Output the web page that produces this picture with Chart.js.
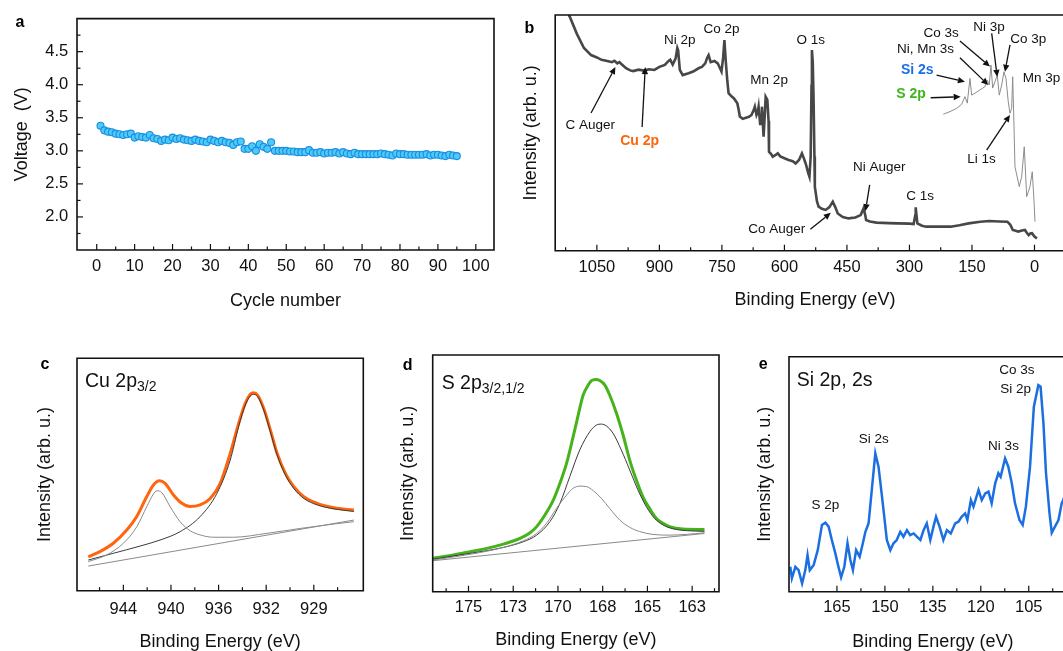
<!DOCTYPE html>
<html><head><meta charset="utf-8">
<script src="https://cdn.jsdelivr.net/npm/chart.js@4.4.1/dist/chart.umd.min.js"></script>
<style>
html,body{margin:0;padding:0;background:#fff;overflow:hidden;width:1063px;height:651px;position:relative}
canvas{position:absolute}
.lab{position:absolute;font:bold 16px 'Liberation Sans',Arial,sans-serif;line-height:16px;color:#000}
</style></head><body>
<canvas id="ca" width="500" height="320" style="left:0;top:0"></canvas>
<canvas id="cb" width="600" height="320" style="left:505px;top:0"></canvas>
<canvas id="cc" width="370" height="320" style="left:0;top:340px"></canvas>
<canvas id="cd" width="360" height="320" style="left:370px;top:340px"></canvas>
<canvas id="ce" width="360" height="320" style="left:730px;top:340px"></canvas>
<div class="lab" style="left:15.5px;top:14px">a</div>
<div class="lab" style="left:524.5px;top:19.5px">b</div>
<div class="lab" style="left:40.5px;top:355.7px">c</div>
<div class="lab" style="left:402.8px;top:357.2px">d</div>
<div class="lab" style="left:758.8px;top:355.7px">e</div>
<script>
// ---------------- DATA ----------------
// Panel a: cycling voltage
const cycles = [1,2,3,4,5,6,7,8,9,10,11,12,13,14,15,16,17,18,19,20,21,22,23,24,25,26,27,28,29,30,31,32,33,34,35,36,37,38,39,40,41,42,43,44,45,46,47,48,49,50,51,52,53,54,55,56,57,58,59,60,61,62,63,64,65,66,67,68,69,70,71,72,73,74,75,76,77,78,79,80,81,82,83,84,85,86,87,88,89,90,91,92,93,94,95];
const voltage = [3.38,3.31,3.29,3.28,3.26,3.25,3.24,3.25,3.26,3.20,
  3.22,3.21,3.20,3.24,3.19,3.18,3.15,3.17,3.16,3.20,
  3.18,3.19,3.17,3.16,3.15,3.17,3.15,3.14,3.13,3.17,
  3.15,3.13,3.15,3.13,3.12,3.09,3.13,3.14,3.03,3.03,
  3.07,3.00,3.10,3.06,3.03,3.13,3.00,3.00,3.00,3.00,
  2.99,2.99,2.98,2.98,2.98,3.01,2.97,2.97,2.98,2.96,
  2.97,2.97,2.98,2.96,2.98,2.96,2.95,2.97,2.95,2.95,
  2.95,2.95,2.95,2.95,2.96,2.95,2.94,2.93,2.96,2.95,
  2.95,2.94,2.94,2.94,2.94,2.94,2.95,2.93,2.94,2.94,
  2.93,2.92,2.94,2.93,2.92];
const aXTicks = [0,10,20,30,40,50,60,70,80,90,100];
const aXMinor = [5,15,25,35,45,55,65,75,85,95];
const aYTicks = [2.0,2.5,3.0,3.5,4.0,4.5];
const aYMinor = [1.75,2.25,2.75,3.25,3.75,4.25,4.75];

// Panel b: survey spectrum [binding energy, intensity]
const surveyMain = [[1118,100],[1115,99.3],[1098,92],[1081,86],[1064,83],[1050,82],[1039,81],[1025,80.5],[1014,80],[1008,80.6],[1001,79.5],[996,80],[990,79],[980,77.4],[970,76.5],[963,76.2],[950,76.8],[937,76.4],[925,77],[912,76.7],[900,78],[887,78.8],[878,80.5],[874,81],[868,79],[861,81.6],[857,86],[855,85],[851,76.7],[844,74.5],[830,75.3],[819,76],[805,77.5],[798,78],[790,79.5],[785,82],[782,83],[777,80],[768,80.5],[760,79.5],[751,76],[747,82],[744,89.4],[741,81],[737,72],[734,66.8],[727,65.5],[721,64.6],[713,62.5],[710,60],[707,56.9],[700,56],[696,56.2],[685,56.8],[679,57.6],[673,60],[671,61.1],[667,57.6],[664,59],[662,61.1],[658,53.3],[656,57],[654,61.1],[650,48.4],[647,58],[645,65.3],[641,64],[638,55],[637,42],[632,41],[628,39.9],[622,40.5],[616,41.3],[610,40],[600,39.2],[590,38.5],[580,38],[573,37],[565,38.5],[558,41.3],[553,39],[548,36.4],[543,33],[540,31.4],[537,39.9],[535,70],[534,85.1],[532,80],[530,64],[528,40],[527,27.2],[522,21],[518,18.7],[510,17.8],[501,17.3],[492,18.5],[484,20.8],[478,18.5],[472,15.8],[460,14.3],[446,13.7],[430,14.1],[417,15.1],[410,18],[406,15],[404,13],[395,12.4],[379,11.9],[350,11.7],[328,11.6],[300,11.5],[290,11.3],[286,15],[285,18.4],[283,15],[281,11.6],[270,10.6],[260,10.2],[230,10.2],[201,10.2],[180,10.8],[158,11.6],[130,12.3],[108,12.6],[85,12.4],[65,12.3],[58,11],[52,8.8],[45,8.5],[39,8.1],[30,8.6],[23,8.8],[18,7.5],[14,6.6],[10,7.3],[6,7.4],[0,6.0],[-6,5.2]];
const surveyInset = [[218.9,57.9],[202.8,59.0],[186.7,60.4],[174.7,62.1],[166.8,65.4],[161.3,62.6],[154.8,73.1],[150.7,66.0],[142.8,66.8],[130.8,68.2],[118.8,69.6],[113.3,72.4],[108.5,70.3],[104.4,78.8],[100.3,69.0],[94.8,71.7],[89.3,74.5],[84.5,66.0],[78.7,70.3],[73.2,75.9],[68.4,73.1],[62.9,63.2],[58.8,58.3],[54.7,60.4],[52.3,73.8],[49.2,53.3],[46.8,35.6],[36.5,27.2],[30.7,31.4],[24.5,44.1],[18.7,22.9],[10.8,27.2],[5.3,33.5],[1.2,21.5],[-1.2,12.3]];
const bTicks = [1050,900,750,600,450,300,150,0];
const bMinor = [1125,975,825,675,525,375,225,75];

// Panel c: Cu 2p3/2
const cuEnvelope = [[946.6,14.6],[945.67,16.8],[944.6,20.4],[943.53,26.1],[942.73,31.9],[941.93,40.5],[941.4,45.5],[940.92,47.3],[940.47,46.2],[939.8,41.2],[939.13,37.6],[938.47,36.2],[937.67,36.9],[936.87,39.7],[936.07,46.2],[935.27,59.1],[934.6,72.0],[934.07,80.6],[933.67,84.5],[933.4,85.2],[933.08,84.1],[932.6,78.5],[932.07,69.2],[931.53,59.1],[930.87,50.5],[930.2,44.8],[929.4,40.5],[928.33,37.6],[927,35.7],[925.4,34.7]];
const cuMain = [[946.6,13.2],[944.6,16.1],[942.47,19.2],[940.87,21.8],[939.27,25.4],[937.67,31.9],[936.33,41.9],[935.27,56.2],[934.6,70.6],[934.07,79.9],[933.67,83.8],[933.4,84.5],[933.08,83.5],[932.6,77.8],[932.07,68.4],[931.53,58.4],[930.87,49.8],[930.2,44.0],[929.4,39.7],[928.33,36.9],[927,35.2],[925.4,34.1]];
const cuSatellite = [[946.6,12.5],[945.13,15.4],[943.8,20.4],[942.73,27.5],[941.93,36.2],[941.4,41.6],[941.13,43.0],[940.73,42.2],[940.07,36.2],[939.27,29.7],[938.47,25.8],[937.67,24.0],[936.6,23.0],[935,23.0],[932.33,24.7],[929.67,26.8],[927,28.7],[925.4,29.7]];
const cuBackground = [[946.6,10.6],[925.4,30.4]];
const cTickValues = [943.8,940,936.2,932.4,928.6];
const cTickLabels = ['944','940','936','932','929'];
const cMinor = [945.7,941.9,938.1,934.3,930.5,926.7];

// Panel d: S 2p3/2,1/2
const sEnvelope = [[176.99,14.1],[175.84,15.5],[174.91,16.9],[173.98,18.3],[173.05,20.1],[172.12,22.5],[171.56,24.9],[171.19,27.5],[170.73,32.4],[170.26,38.7],[169.89,45.8],[169.52,54.2],[169.15,65.5],[168.87,74.6],[168.59,83.1],[168.31,87.3],[168.13,89.2],[167.89,89.7],[167.66,89.2],[167.38,87.3],[167.11,83.1],[166.73,75.4],[166.36,66.2],[165.99,55.6],[165.62,47.2],[165.25,40.1],[164.88,35.2],[164.51,31.0],[164.13,28.9],[163.76,27.5],[163.02,26.5],[161.81,26.3]];
const sComp1 = [[176.99,13.7],[174.91,16.2],[173.05,18.7],[171.94,21.1],[171.19,23.9],[170.45,29.6],[169.89,37.3],[169.34,48.6],[168.78,59.9],[168.22,67.6],[167.85,70.4],[167.57,70.8],[167.29,70.0],[166.92,66.9],[166.46,59.9],[165.99,51.4],[165.53,43.0],[165.06,35.9],[164.6,31.0],[164.13,28.2],[163.58,26.6],[162.83,25.8],[161.81,25.5]];
const sComp2 = [[176.99,13.4],[174.91,15.8],[173.05,18.7],[171.94,21.5],[171.19,24.6],[170.64,28.9],[170.08,35.2],[169.52,40.8],[169.15,43.7],[168.78,44.6],[168.41,44.4],[168.03,42.7],[167.57,39.4],[167.11,35.2],[166.55,30.3],[165.99,27.2],[165.43,25.4],[164.69,24.2],[163.76,23.9],[162.83,24.2],[161.81,24.9]];
const sBackground = [[176.99,13.1],[161.81,24.6]];
const dTickValues = [175,172.5,170,167.5,165,162.5];
const dTickLabels = ['175','173','170','168','165','163'];
const dMinor = [176.25,173.75,171.25,168.75,166.25,163.75,161.25];

// Panel e: Si 2p, 2s region
const siSpectrum = [[179.6,10.6],[179.1,5.7],[178.0,10.6],[177.0,9.2],[175.9,3.5],[174.9,9.2],[174.2,15.6],[173.5,9.2],[172.3,11.3],[171.0,17.7],[169.7,28.4],[168.6,29.4],[167.6,27.7],[166.6,22.0],[165.5,16.3],[164.8,12.1],[163.7,6.1],[162.7,10.6],[161.7,20.6],[160.8,13.5],[160.0,9.2],[159.0,17.7],[157.9,14.9],[156.9,20.6],[156.1,25.5],[155.1,29.1],[154.1,43.3],[153.0,58.9],[152.0,53.2],[150.9,40.4],[150.2,31.9],[149.4,22.0],[148.3,17.7],[147.3,20.6],[146.3,22.0],[145.2,25.5],[144.2,23.4],[143.1,26.2],[142.1,24.1],[141.0,24.8],[140.0,23.4],[138.9,22.0],[137.9,26.2],[136.9,29.1],[135.8,22.0],[134.8,27.7],[134.0,31.9],[132.9,27.7],[131.7,22.0],[130.6,26.2],[129.4,24.8],[128.0,29.1],[127.0,29.8],[126.0,31.9],[124.9,33.3],[124.2,30.5],[123.1,39.0],[122.3,36.2],[120.7,43.3],[119.7,39.0],[118.6,41.8],[117.6,42.6],[116.6,37.6],[115.5,46.1],[114.5,50.4],[113.8,48.9],[112.4,56.7],[111.4,53.2],[110.3,46.1],[109.3,37.6],[107.9,30.5],[106.9,28.4],[105.9,36.2],[104.6,53.2],[103.4,78.7],[102.0,87.9],[101.3,87.2],[100.4,71.6],[99.6,50.4],[98.5,33.3],[97.8,25.1],[96.8,27.7],[95.7,30.5],[94.7,37.6],[94.2,39.0],[93.5,42.0]];
const eTicks = [165,150,135,120,105];
const eMinor = [172.5,157.5,142.5,127.5,112.5,97.5];

// ---------------- ANNOTATIONS ----------------
const surveyLabels = [
  {t:'Ni 2p',x:850.9,y:89.4},{t:'Co 2p',x:751.1,y:93.9},{t:'O 1s',x:536.9,y:89.4},{t:'Mn 2p',x:636.7,y:72.4},
  {t:'C Auger',x:1066,y:53.0},{t:'Cu 2p',x:947.4,y:46.5,c:'#ff6508',b:true},{t:'Ni Auger',x:372.6,y:35.4},
  {t:'C 1s',x:274.3,y:23.2},{t:'Co Auger',x:618.2,y:9.2},{t:'Co 3s',x:224.0,y:92.2},{t:'Ni 3p',x:109.0,y:95.0},
  {t:'Co 3p',x:14.7,y:89.8},{t:'Ni, Mn 3s',x:261.6,y:85.4},{t:'Si 2s',x:281.2,y:76.6,c:'#1a6fe6',b:true},
  {t:'S 2p',x:296.4,y:66.5,c:'#3fb51c',b:true},{t:'Mn 3p',x:-17,y:73.1},{t:'Li 1s',x:127,y:38.8}
];
const surveyArrows = [[1064.0,58.4,1005.6,77.9],[941.5,52.5,933.9,77.9],[537.7,9.1,488.7,16.1],[395.4,27.9,405.6,16.8],
  [249.2,64.9,177.1,65.3],[234.8,74.5,166.8,71.7],[178.8,81.9,110.9,70.3],[178.8,89.0,106.8,78.1],
  [102.7,92.2,89.3,73.8],[58.8,87.3,70.8,75.9],[114.7,42.7,58.8,57.6]];
const siLabels = [{t:'S 2p',x:168.6,y:36.9},{t:'Si 2s',x:153.5,y:64.8},{t:'Ni 3s',x:112.9,y:61.7},{t:'Co 3s',x:108.75,y:94.3},{t:'Si 2p',x:109.1,y:86.1}];

// ---------------- HELPERS ----------------
const F = "'Liberation Sans', Arial, sans-serif";
const INK = '#111';
const pts = arr => arr.map(([x,y]) => ({x,y}));

function frame(o){
  return {id:'frame', afterDatasetsDraw(chart){
    const {ctx, chartArea:A, scales:{x,y}} = chart;
    ctx.save(); ctx.strokeStyle = INK; ctx.lineWidth = 1.2;
    const tick = (vals,len,ax) => (vals||[]).forEach(v => {
      ctx.beginPath();
      if (ax==='x'){ const p=x.getPixelForValue(v); ctx.moveTo(p,A.bottom); ctx.lineTo(p,A.bottom-len); }
      else { const p=y.getPixelForValue(v); ctx.moveTo(A.left,p); ctx.lineTo(A.left+len,p); }
      ctx.stroke();
    });
    tick(o.xMajor,6,'x'); tick(o.xMinor,3.5,'x'); tick(o.yMajor,6,'y'); tick(o.yMinor,3.5,'y');
    ctx.lineWidth = 1.6; ctx.beginPath();
    if (o.openRight){ ctx.moveTo(chart.width,A.top); ctx.lineTo(A.left,A.top); ctx.lineTo(A.left,A.bottom); ctx.lineTo(chart.width,A.bottom); }
    else ctx.rect(A.left,A.top,A.right-A.left,A.bottom-A.top);
    ctx.stroke(); ctx.restore();
  }};
}
function annot(o){
  return {id:'annot', afterDraw(chart){
    const {ctx, scales:{x,y}} = chart;
    ctx.save(); ctx.fillStyle = INK; ctx.strokeStyle = INK; ctx.lineWidth = 1.3;
    (o.arrows||[]).forEach(([x1,y1,x2,y2]) => {
      const a=x.getPixelForValue(x1), b=y.getPixelForValue(y1), c=x.getPixelForValue(x2), d=y.getPixelForValue(y2);
      const ang=Math.atan2(d-b,c-a), L=7, W=3.2;
      const bx=c-L*Math.cos(ang), by=d-L*Math.sin(ang);
      ctx.beginPath(); ctx.moveTo(a,b); ctx.lineTo(bx,by); ctx.stroke();
      ctx.beginPath(); ctx.moveTo(c,d);
      ctx.lineTo(bx+W*Math.sin(ang), by-W*Math.cos(ang));
      ctx.lineTo(bx-W*Math.sin(ang), by+W*Math.cos(ang)); ctx.closePath(); ctx.fill();
    });
    ctx.textAlign='center'; ctx.textBaseline='middle';
    (o.labels||[]).forEach(l => {
      ctx.font = (l.b?'bold 14px ':'13.5px ')+F;
      ctx.fillStyle = l.c || INK;
      ctx.fillText(l.t, x.getPixelForValue(l.x), y.getPixelForValue(l.y));
    });
    ctx.restore();
  }};
}
function ptitle(o){
  return {id:'ptitle', afterDraw(chart){
    const {ctx, chartArea:A} = chart;
    ctx.save(); ctx.fillStyle = INK; ctx.textBaseline='alphabetic'; ctx.textAlign='left';
    let px = A.left + o.dx;
    o.parts.forEach(p => {
      ctx.font = p.size+'px '+F;
      ctx.fillText(p.t, px, A.top + o.dy + (p.dy||0));
      px += ctx.measureText(p.t).width;
    });
    ctx.restore();
  }};
}
function xScale(o){
  return {type:'linear', min:o.min, max:o.max, reverse:!!o.reverse, bounds:'data',
    afterBuildTicks: s => { s.ticks = o.ticks.map(v => ({value:v})); },
    afterFit: s => { s.height = o.h; },
    grid:{display:false, drawTicks:false}, border:{display:false},
    ticks:{autoSkip:false, maxRotation:0, minRotation:0, padding:o.pad, color:INK, font:{family:F,size:16.5}, callback:o.cb},
    title:{display:true, text:o.title, color:INK, font:{family:F,size:18}, padding:{top:0,bottom:o.tpad}}};
}
function yScale(o){
  return {type:'linear', min:o.min, max:o.max, bounds:'data',
    afterBuildTicks: s => { s.ticks = (o.ticks||[o.min,o.max]).map(v => ({value:v})); },
    afterFit: s => { s.width = o.w; },
    grid:{display:false, drawTicks:false}, border:{display:false},
    ticks:{display:!!o.ticks, padding:o.pad||0, color:INK, font:{family:F,size:16.5}, callback:o.cb},
    title:{display:true, text:o.title, color:INK, font:{family:F,size:18}, padding:{top:o.tpad,bottom:0}}};
}
function base(pad, scales){
  return {responsive:false, animation:false, devicePixelRatio:1,
    layout:{padding:{top:pad.top, right:pad.right, left:0, bottom:0}},
    plugins:{legend:{display:false}, tooltip:{enabled:false}},
    elements:{point:{radius:0}}, scales};
}
const line = (data,color,width,extra) => Object.assign({type:'line', data:pts(data), borderColor:color, borderWidth:width, pointRadius:0, fill:false, tension:0}, extra||{});
const smooth = {cubicInterpolationMode:'monotone'};
const INT = 'Intensity (arb. u.)', BE = 'Binding Energy (eV)';

// ---------------- CHART a ----------------
new Chart(document.getElementById('ca'), {
  type:'scatter',
  data:{datasets:[{data:cycles.map((c,i)=>({x:c,y:voltage[i]})), pointRadius:3.5, pointBackgroundColor:'#4ccbf7', pointBorderColor:'#1b8de3', pointBorderWidth:1.1}]},
  options: base({top:15,right:6}, {
    x: xScale({min:-5.2,max:104.8,ticks:aXTicks,h:70,pad:7,tpad:8.5,title:'Cycle number',cb:v=>String(v)}),
    y: yScale({min:1.5,max:5.0,ticks:aYTicks,w:77,pad:8.7,tpad:10.9,title:'Voltage  (V)',cb:v=>v.toFixed(1)})
  }),
  plugins:[frame({xMajor:aXTicks,xMinor:aXMinor,yMajor:aYTicks,yMinor:aYMinor})]
});

// ---------------- CHART b ----------------
new Chart(document.getElementById('cb'), {
  type:'line',
  data:{datasets:[line(surveyMain,'#474747',2.6), line(surveyInset,'#8c8c8c',1)]},
  options: base({top:15,right:30.1}, {
    x: xScale({min:-97,max:1150,reverse:true,ticks:bTicks,h:69.3,pad:7,tpad:9.2,title:BE,cb:v=>String(v)}),
    y: yScale({min:0,max:100,w:50.2,tpad:15.4,title:INT})
  }),
  plugins:[frame({xMajor:bTicks,xMinor:bMinor,openRight:true}), annot({labels:surveyLabels,arrows:surveyArrows})]
});

// ---------------- CHART c ----------------
new Chart(document.getElementById('cc'), {
  type:'line',
  data:{datasets:[line(cuBackground,'#8a8a8a',1), line(cuSatellite,'#8a8a8a',1,smooth), line(cuMain,'#3a3a3a',1,smooth), line(cuEnvelope,'#ff650f',3,smooth)]},
  options: base({top:18.3,right:6.7}, {
    x: xScale({min:924.65,max:947.5,reverse:true,ticks:cTickValues,h:69.3,pad:9,tpad:7.5,title:BE,cb:(v,i)=>cTickLabels[i]}),
    y: yScale({min:0,max:100,w:77,tpad:34.2,title:INT})
  }),
  plugins:[frame({xMajor:cTickValues,xMinor:cMinor}), ptitle({dx:8,dy:28.4,parts:[{t:'Cu 2p',size:19.5},{t:'3/2',size:14,dy:4}]})]
});

// ---------------- CHART d ----------------
new Chart(document.getElementById('cd'), {
  type:'line',
  data:{datasets:[line(sBackground,'#8a8a8a',1), line(sComp2,'#8a8a8a',1,smooth), line(sComp1,'#3a3a3a',1,smooth), line(sEnvelope,'#45b41a',3,smooth)]},
  options: base({top:15,right:11}, {
    x: xScale({min:161,max:177,reverse:true,ticks:dTickValues,h:68.3,pad:6,tpad:9.2,title:BE,cb:(v,i)=>dTickLabels[i]}),
    y: yScale({min:0,max:100,w:62.7,tpad:27.5,title:INT})
  }),
  plugins:[frame({xMajor:dTickValues,xMinor:dMinor}), ptitle({dx:9,dy:34.3,parts:[{t:'S 2p',size:19.5},{t:'3/2,1/2',size:14,dy:4}]})]
});

// ---------------- CHART e ----------------
new Chart(document.getElementById('ce'), {
  type:'line',
  data:{datasets:[line(siSpectrum,'#1b6fe0',2.5)]},
  options: base({top:16.7,right:13.3}, {
    x: xScale({min:90,max:180,reverse:true,ticks:eTicks,h:68.3,pad:6,tpad:7.5,title:BE,cb:v=>String(v)}),
    y: yScale({min:0,max:100,w:59,tpad:24.2,title:INT})
  }),
  plugins:[frame({xMajor:eTicks,xMinor:eMinor}), annot({labels:siLabels}), ptitle({dx:7.7,dy:29.3,parts:[{t:'Si 2p, 2s',size:19.5}]})]
});
</script>
</body></html>
